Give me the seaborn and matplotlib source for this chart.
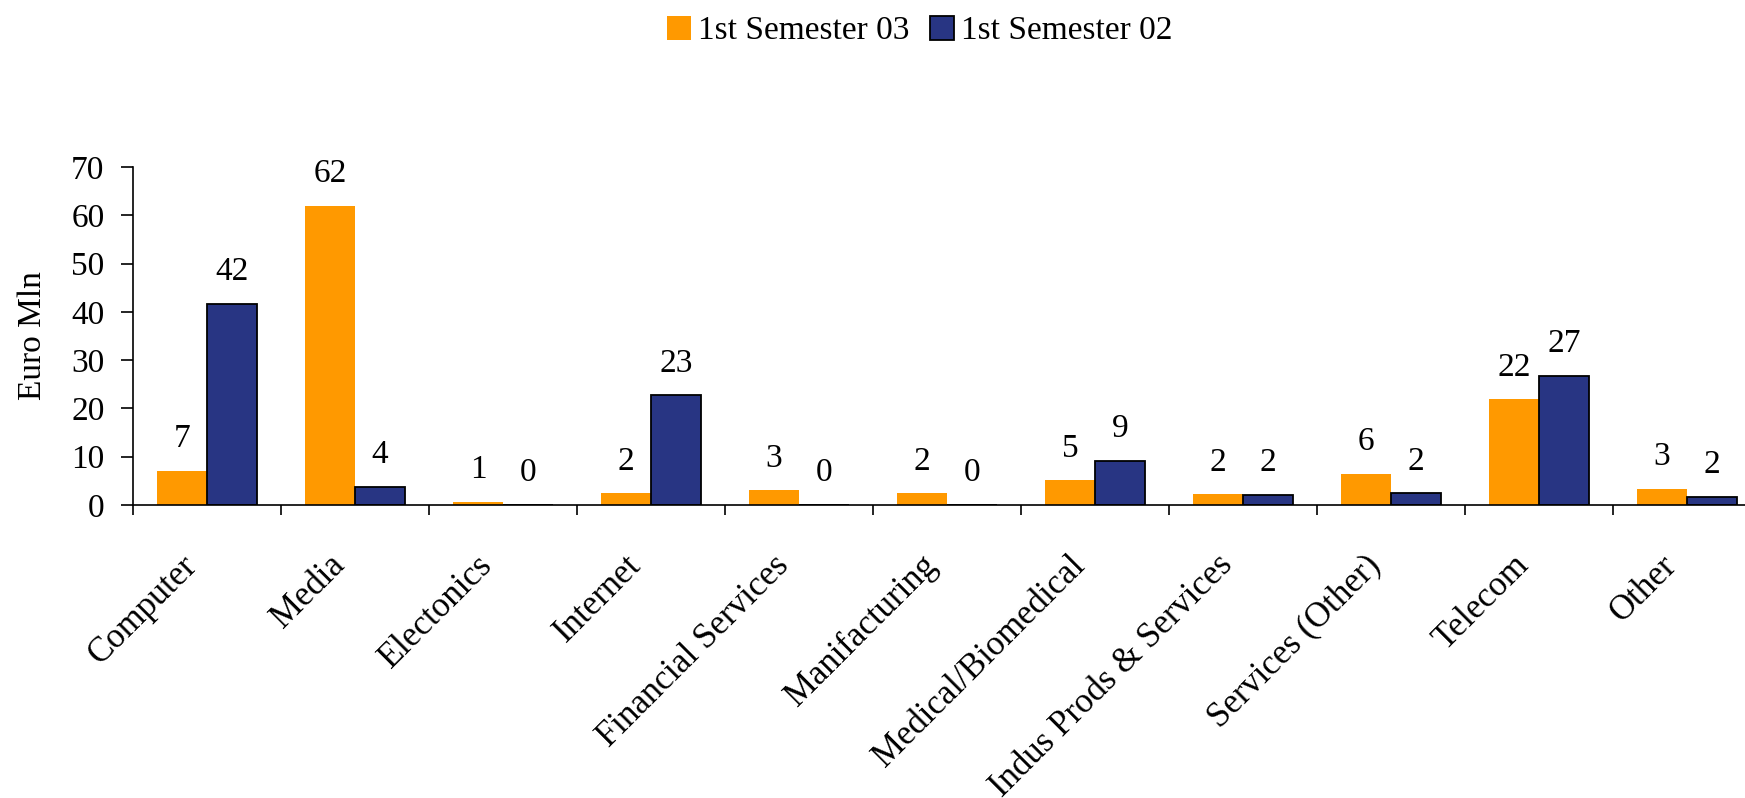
import pandas as pd
import matplotlib.pyplot as plt
import matplotlib.patches as mpatches
from matplotlib.transforms import ScaledTranslation
import seaborn as sns

# data (Euro Mln)
sectors = ["Computer", "Media", "Electonics", "Internet", "Financial Services",
           "Manifacturing", "Medical/Biomedical", "Indus Prods & Services",
           "Services (Other)", "Telecom", "Other"]
sem_03 = [7.1, 62.0, 0.6, 2.4, 3.0, 2.4, 5.1, 2.2, 6.4, 21.9, 3.4]
sem_02 = [41.7, 3.8, 0.0, 22.7, 0.0, 0.0, 9.2, 2.1, 2.4, 26.8, 1.7]
periods = ["1st Semester 03", "1st Semester 02"]
colors = ["#FF9900", "#283583"]

df = pd.DataFrame({
    "sector": sectors * 2,
    "value": sem_03 + sem_02,
    "period": [periods[0]] * len(sectors) + [periods[1]] * len(sectors),
})

sns.set_style("white")
plt.rcParams["font.family"] = ["Liberation Serif", "DejaVu Serif"]
for key in ["text.color", "axes.labelcolor", "xtick.color", "ytick.color"]:
    plt.rcParams[key] = "black"
FS = 24

fig = plt.figure(figsize=(17.45, 7.98), dpi=100)
ax = fig.add_axes([0.0762, 0.3672, 0.933, 0.4235])

sns.barplot(data=df, x="sector", y="value", hue="period", hue_order=periods,
            palette=colors, width=0.676, gap=0, saturation=1, ax=ax,
            legend=False)

# orange bars without border, blue bars with black border
for cont, edge in zip(ax.containers, [False, True]):
    for bar in cont:
        if edge:
            bar.set_edgecolor("black")
            bar.set_linewidth(1.3)
        else:
            bar.set_linewidth(0)

# value labels
for cont, vals in zip(ax.containers, [sem_03, sem_02]):
    for bar, v in zip(cont, vals):
        ax.annotate(f"{v:.0f}", (bar.get_x() + bar.get_width() / 2, v),
                    xytext=(0, 23), textcoords="offset points",
                    ha="center", va="center", fontsize=FS)

ax.set_xlim(-0.5, len(sectors) - 0.5)
ax.set_ylim(0, 70)
ax.set_yticks(range(0, 71, 10))
ax.set_xlabel("")
ax.set_ylabel("Euro Mln", fontsize=FS)
ax.yaxis.set_label_coords(-0.052, 0.5)

for side in ["top", "right"]:
    ax.spines[side].set_visible(False)
for side in ["left", "bottom"]:
    ax.spines[side].set_linewidth(1.2)
    ax.spines[side].set_color("black")

ax.tick_params(axis="y", direction="out", length=8.5, width=1.2, labelsize=FS,
               pad=12, left=True)
ax.set_xticks(range(len(sectors)))
ax.set_xticks([i - 0.5 for i in range(len(sectors) + 1)], minor=True)
ax.tick_params(axis="x", which="major", length=0, pad=40, labelsize=25)
ax.tick_params(axis="x", which="minor", direction="out", length=7, width=1.2,
               bottom=True)
ax.set_xticklabels(sectors, rotation=45, ha="right", va="center",
                   rotation_mode="anchor")
shift = ScaledTranslation(-15 / 100, 0, fig.dpi_scale_trans)
for lab in ax.get_xticklabels():
    lab.set_transform(lab.get_transform() + shift)

handles = [
    mpatches.Patch(facecolor=colors[0], edgecolor="none", label=periods[0]),
    mpatches.Patch(facecolor=colors[1], edgecolor="black", linewidth=1.3,
                   label=periods[1]),
]
fig.legend(handles=handles, loc="center", bbox_to_anchor=(0.527, 0.961),
           ncol=2, frameon=False, fontsize=FS, handlelength=0.73,
           handleheight=0.73, handletextpad=0.2, columnspacing=0.63)

plt.savefig("out.png", dpi=100)
plt.close()
